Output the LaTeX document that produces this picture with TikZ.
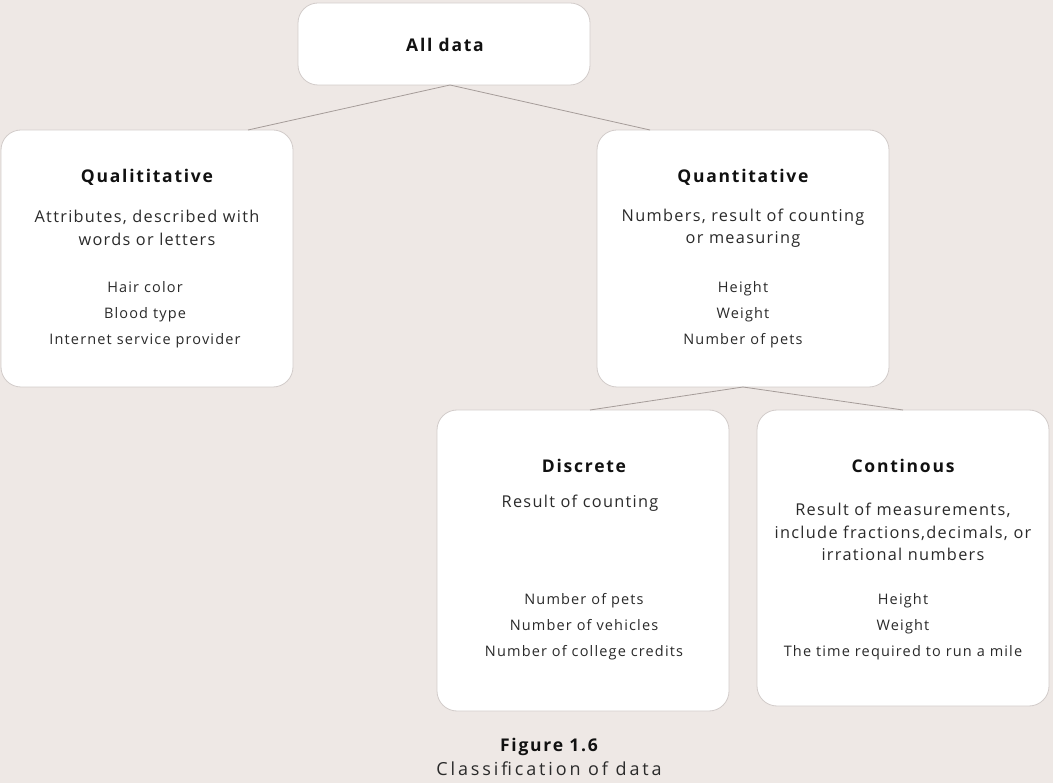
\documentclass[tikz,border=0pt]{standalone}
\usepackage{fontspec}
\setmainfont[LetterSpace=8]{Open Sans}
\newfontfamily\titlefont[LetterSpace=10]{Open Sans}
\newfontfamily\capfont[LetterSpace=16]{Open Sans}
\definecolor{bgpaper}{HTML}{EEE8E5}
\definecolor{boxline}{HTML}{D2CCCA}
\definecolor{linkline}{HTML}{A59C99}
\definecolor{inktext}{HTML}{111111}
\definecolor{bodytext}{HTML}{2A2A2A}
\tikzset{
  databox/.style={draw=boxline, fill=white, rounded corners=20pt, line width=.8pt,
    minimum width=292pt, inner sep=0pt},
  boxtitle/.style={font=\titlefont\fontsize{17.5}{20}\selectfont\bfseries, text=inktext},
  boxdesc/.style={font=\fontsize{16.3}{22.5}\selectfont, text=bodytext, align=center},
  boxitem/.style={font=\fontsize{14.5}{26}\selectfont, text=bodytext, align=center},
  link/.style={draw=linkline, line width=.8pt}
}
\begin{document}
\begin{tikzpicture}[x=1pt, y=-1pt]
% Background and size
\fill[bgpaper] (0,0) rectangle (1053,783);
\useasboundingbox (0,0) rectangle (1053,783);
% Boxes
\node[databox, minimum height=82pt] (all) at (444,44) {};
\node[databox, minimum height=257pt] (qual) at (147,258.5) {};
\node[databox, minimum height=257pt] (quant) at (743,258.5) {};
\node[databox, minimum height=301pt] (disc) at (583,560.5) {};
\node[databox, minimum height=296pt] (cont) at (903,558) {};
% Free ends of the links
\coordinate (allout) at (450,85);
\coordinate (qualin) at (248,130);
\coordinate (quantin) at (650,130);
\coordinate (quantout) at (743,387);
\coordinate (discin) at (590,410);
\coordinate (contin) at (903,410);
\draw[link] (qualin) -- (allout) -- (quantin);
\draw[link] (discin) -- (quantout) -- (contin);
% Texts
\node[boxtitle] (alltitle) at (445,45) {All data};
\node[boxtitle] (qualtitle) at (147,177) {Qualititative};
\node[boxdesc] (qualdesc) at (147,228) {Attributes, described with\\words or letters};
\node[boxitem] (qualitems) at (145,315) {Hair color\\Blood type\\Internet service provider};
\node[boxtitle] (quanttitle) at (743,177) {Quantitative};
\node[boxdesc] (quantdesc) at (743,228) {Numbers, result of counting\\or measuring};
\node[boxitem] (quantitems) at (743,315) {Height\\Weight\\Number of pets};
\node[boxtitle] (disctitle) at (584,466) {Discrete};
\node[boxdesc] (discdesc) at (580,503) {Result of counting};
\node[boxitem] (discitems) at (584,627) {Number of pets\\Number of vehicles\\Number of college credits};
\node[boxtitle] (conttitle) at (903,466) {Continous};
\node[boxdesc] (contdesc) at (903,532) {Result of measurements,\\include fractions,decimals, or\\irrational numbers};
\node[boxitem] (contitems) at (903,627) {Height\\Weight\\The time required to run a mile};
% Caption
\node[font=\titlefont\fontsize{17.5}{20}\selectfont\bfseries, text=inktext] (figno) at (549,747) {Figure 1.6};
\node[font=\capfont\fontsize{18}{20}\selectfont, text=bodytext] (figcap) at (549,769) {Classification of data};
\end{tikzpicture}
\end{document}
